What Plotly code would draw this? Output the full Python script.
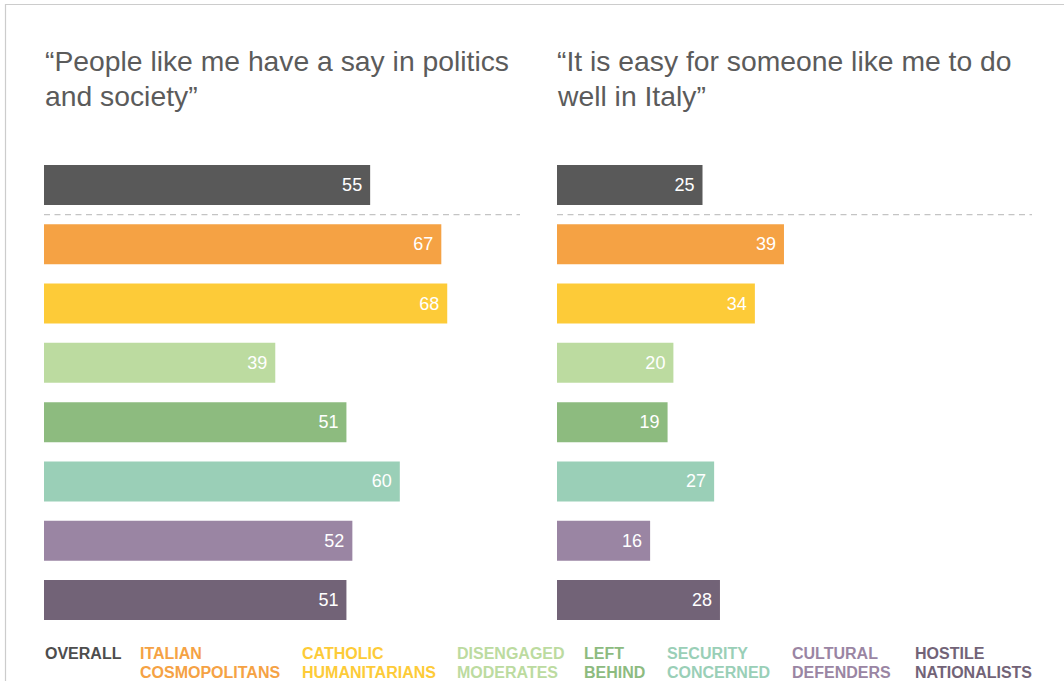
import plotly.graph_objects as go

W, H = 1064, 681

segments = ["OVERALL", "ITALIAN COSMOPOLITANS", "CATHOLIC HUMANITARIANS", "DISENGAGED MODERATES",
            "LEFT BEHIND", "SECURITY CONCERNED", "CULTURAL DEFENDERS", "HOSTILE NATIONALISTS"]
legend_line1 = ["OVERALL", "ITALIAN", "CATHOLIC", "DISENGAGED", "LEFT", "SECURITY", "CULTURAL", "HOSTILE"]
legend_line2 = ["", "COSMOPOLITANS", "HUMANITARIANS", "MODERATES", "BEHIND", "CONCERNED", "DEFENDERS", "NATIONALISTS"]
colors = ["#595959", "#F5A244", "#FDCB38", "#BCDBA0", "#8DBB7F", "#9ACFB7", "#9A85A3", "#726377"]

say_in_politics = [55, 67, 68, 39, 51, 60, 52, 51]
easy_to_do_well = [25, 39, 34, 20, 19, 27, 16, 28]

title_left = ["\u201cPeople like me have a say in politics", "and society\u201d"]
title_right = ["\u201cIt is easy for someone like me to do", "well in Italy\u201d"]

FONT = "Liberation Sans, Arial, Helvetica, sans-serif"

fig = go.Figure()

for vals, xa, ya in [(say_in_politics, "x", "y"), (easy_to_do_well, "x2", "y2")]:
    fig.add_trace(go.Bar(
        y=segments, x=vals, orientation="h",
        marker=dict(color=colors, line=dict(width=0)),
        width=0.675,
        text=[f"{v}\u00a0" for v in vals],
        textposition="inside", insidetextanchor="end",
        textfont=dict(color="white", size=18, family=FONT),
        textangle=0,
        cliponaxis=False,
        xaxis=xa, yaxis=ya, showlegend=False, hoverinfo="skip",
    ))

ldom = [44 / W, 520 / W]
rdom = [557 / W, 1032 / W]
ytop = 185 - 59.3 / 2
ybot = 600 + 59.3 / 2
ydom = [1 - ybot / H, 1 - ytop / H]

axis_common = dict(showgrid=False, zeroline=False, showticklabels=False, showline=False, ticks="")
fig.update_layout(
    width=W, height=H,
    margin=dict(l=0, r=0, t=0, b=0),
    paper_bgcolor="white", plot_bgcolor="white",
    font=dict(family=FONT),
    xaxis=dict(domain=ldom, range=[0, (520 - 44) / 5.93], **axis_common),
    xaxis2=dict(domain=rdom, range=[0, (1032 - 557) / 5.82], anchor="y2", **axis_common),
    yaxis=dict(domain=ydom, autorange=False, range=[7.5, -0.5], categoryorder="array",
               categoryarray=segments, **axis_common),
    yaxis2=dict(domain=ydom, autorange=False, range=[7.5, -0.5], categoryorder="array",
                categoryarray=segments, anchor="x2", **axis_common),
)

shapes = []
for xr, yr in [("x domain", "y"), ("x2 domain", "y2")]:
    shapes.append(dict(type="line", xref=xr, yref=yr, x0=0, x1=1, y0=0.5, y1=0.5,
                       line=dict(color="#c4c4c4", width=1.3, dash="6px,4.5px")))
# frame
shapes.append(dict(type="line", xref="paper", yref="paper", x0=5 / W, x1=1, y0=1 - 4.5 / H, y1=1 - 4.5 / H,
                   line=dict(color="#cccccc", width=1.2)))
shapes.append(dict(type="line", xref="paper", yref="paper", x0=5.5 / W, x1=5.5 / W, y0=0, y1=1 - 4 / H,
                   line=dict(color="#cccccc", width=1.2)))
fig.update_layout(shapes=shapes)

ann = []
for lines, x0 in [(title_left, 43), (title_right, 555)]:
    for i, t in enumerate(lines):
        ann.append(dict(text=t, xref="paper", yref="paper", x=x0 / W, y=1 - (61 + 35 * i) / H,
                        xanchor="left", yanchor="middle", showarrow=False,
                        font=dict(size=28.3, color="#5b5b5b", family=FONT)))

legend_x = [43, 138, 300, 455, 582, 665, 790, 913]
for l1, l2, c, x0 in zip(legend_line1, legend_line2, colors, legend_x):
    for j, t in enumerate([l1, l2]):
        if not t:
            continue
        ann.append(dict(text="<b>" + t + "</b>", xref="paper", yref="paper", x=x0 / W, y=1 - (653 + 19 * j) / H,
                        xanchor="left", yanchor="middle", showarrow=False,
                        font=dict(size=16, color=c if c != "#595959" else "#4d4d4d", family=FONT)))
fig.update_layout(annotations=ann)

fig.write_html("out.html", config={"displayModeBar": False},
               post_script="document.body.style.margin='0';document.body.style.overflow='hidden';")
